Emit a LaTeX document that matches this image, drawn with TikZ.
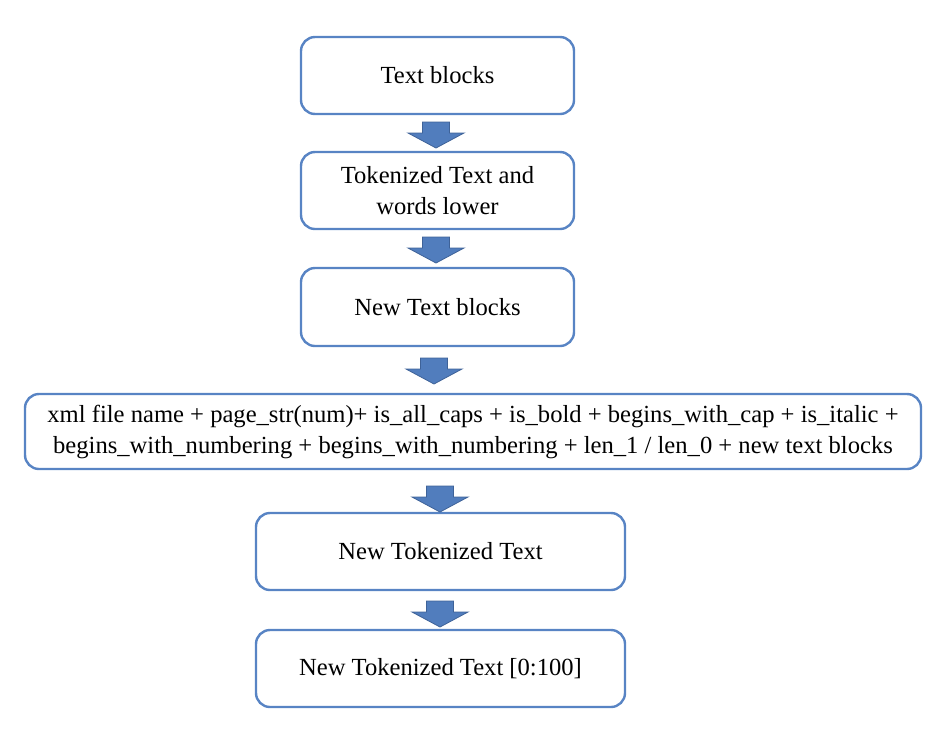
\documentclass[tikz,border=0pt]{standalone}
\usepackage{fontspec}
\setmainfont{Liberation Serif}
\definecolor{boxline}{RGB}{88,132,196}
\definecolor{arrfill}{RGB}{81,125,189}
\definecolor{arrline}{RGB}{62,98,152}
\tikzset{
  stepbox/.style={draw=boxline, line width=2.4pt, rounded corners=14pt, fill=white,
    align=center, inner sep=0pt, font=\fontsize{24.6}{31}\selectfont},
  fatarrow/.pic={
    \filldraw[fill=arrfill, draw=arrline, line width=0.8pt]
      (-13.5,0) -- (13.5,0) -- (13.5,11) -- (28,11) -- (0,26) -- (-28,11) -- (-13.5,11) -- cycle;
  }
}
\begin{document}
\begin{tikzpicture}[x=1pt,y=-1pt]
\useasboundingbox (0,0) rectangle (944,740);
\node[stepbox, minimum width=273pt, minimum height=77pt] (b1) at (437.5,75.5) {Text blocks};
\node[stepbox, minimum width=273pt, minimum height=77pt] (b2) at (437.5,190.5) {Tokenized Text and\\words lower};
\node[stepbox, minimum width=273pt, minimum height=78pt] (b3) at (437.5,307) {New Text blocks};
\node[stepbox, minimum width=896pt, minimum height=75pt] (b4) at (473,431.5) {xml file name + page\_str(num)+ is\_all\_caps + is\_bold + begins\_with\_cap + is\_italic +\\begins\_with\_numbering + begins\_with\_numbering + len\_1 / len\_0 + new text blocks};
\node[stepbox, minimum width=369pt, minimum height=77pt] (b5) at (440.5,551.5) {New Tokenized Text};
\node[stepbox, minimum width=369pt, minimum height=77pt] (b6) at (440.5,668.5) {New Tokenized Text [0:100]};
\pic at (436,122) {fatarrow};
\pic at (436,237) {fatarrow};
\pic at (434,358) {fatarrow};
\pic at (440,486) {fatarrow};
\pic at (440,601) {fatarrow};
\end{tikzpicture}
\end{document}
